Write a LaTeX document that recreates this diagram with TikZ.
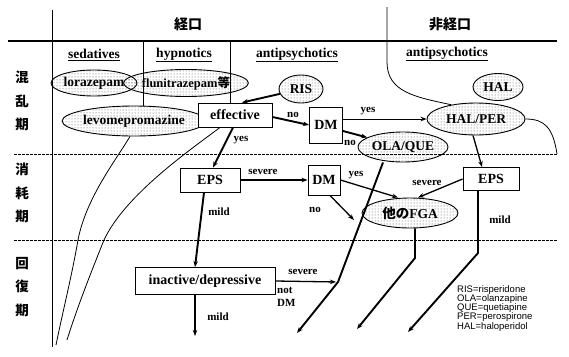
\documentclass[tikz,border=0pt]{standalone}
\usepackage{fontspec}
\setmainfont{Liberation Serif}
\newfontfamily\cjk{Noto Sans CJK JP}
\newfontfamily\legendfont{Liberation Sans}
\usetikzlibrary{shapes.geometric,arrows.meta,patterns}

\begin{document}
\begin{tikzpicture}[x=1pt,y=-1pt,
  >={Stealth[length=6pt,width=4.5pt]},
  drug/.style={ellipse, draw, line width=0.9pt, inner sep=0pt,
    pattern=dots, pattern color=black!70,
    font=\bfseries\fontsize{13.5}{13.5}\selectfont},
  stage/.style={rectangle, draw, line width=0.9pt, fill=white, inner sep=0pt,
    font=\bfseries\fontsize{14}{14}\selectfont},
  lbl/.style={inner sep=0pt, font=\bfseries\fontsize{11}{11}\selectfont},
  hdr/.style={inner sep=0pt, font=\bfseries\fontsize{13.5}{13.5}\selectfont},
  jphead/.style={inner sep=0pt, font=\cjk\bfseries\fontsize{14}{14}\selectfont},
  jprow/.style={inner sep=0pt, align=center, font=\cjk\bfseries\fontsize{13.5}{23.5}\selectfont},
  rowsep/.style={line width=0.9pt, dash pattern=on 2.5pt off 1.5pt},
  curve/.style={line width=0.8pt},
  arrthin/.style={->, line width=0.8pt},
  arrmed/.style={->, line width=1.3pt},
  arrthick/.style={->, line width=1.9pt},
]
\useasboundingbox (0,0) rectangle (569,356);

% ---------- frame ----------
\draw[line width=1.2pt] (8,41) -- (557,41);
\draw[line width=1pt] (52,10) -- (52,347);
\draw[line width=0.8pt] (143,41) -- (143,106);
\draw[line width=0.8pt] (230,41) -- (230,103);
\draw[rowsep] (14,154) -- (557,154);
\draw[rowsep] (14,240) -- (557,240);

% ---------- headings ----------
\node[jphead] (oral) at (188,24) {経口};
\node[jphead] (parenteral) at (450,24) {非経口};
\node[hdr] (hsed) at (94,55) {\underline{sedatives}};
\node[hdr] (hhyp) at (184,55) {\underline{hypnotics}};
\node[hdr] (hap1) at (297,55) {\underline{antipsychotics}};
\node[hdr] (hap2) at (447,54) {\underline{antipsychotics}};

\node[jprow] (ph1) at (22,101) {混\\乱\\期};
\node[jprow] (ph2) at (22,193) {消\\耗\\期};
\node[jprow] (ph3) at (22,287) {回\\復\\期};

% ---------- drugs ----------
\node[drug, minimum width=78pt, minimum height=26pt] (loraz) at (94,83) {lorazepam};
\node[drug, minimum width=96pt, minimum height=27pt,
      font=\bfseries\fontsize{12.5}{12.5}\selectfont] (fluni) at (186,83) {flunitrazepam{\cjk 等}};
\node[drug, minimum width=108pt, minimum height=30pt] (levo) at (134,121) {levomepromazine};
\node[drug, minimum width=44pt, minimum height=28pt] (RIS) at (301,89) {RIS};
\node[drug, minimum width=50pt, minimum height=27pt] (HAL) at (498,87) {HAL};
\node[drug, minimum width=98pt, minimum height=32pt] (HALPER) at (476,119) {HAL/PER};
\node[drug, minimum width=90pt, minimum height=30pt] (OLAQUE) at (403,147) {OLA/QUE};
\node[drug, minimum width=96pt, minimum height=30pt] (FGA) at (410,213) {{\cjk 他の}FGA};

% ---------- decisions ----------
\node[stage, minimum width=74pt, minimum height=24pt] (effective) at (235,115) {effective};
\node[stage, minimum width=33pt, minimum height=36pt] (DM1) at (326,125) {DM};
\node[stage, minimum width=60pt, minimum height=24pt] (EPS1) at (210,180) {EPS};
\node[stage, minimum width=32pt, minimum height=30pt] (DM2) at (324,180) {DM};
\node[stage, minimum width=56pt, minimum height=23pt] (EPS2) at (491,179) {EPS};
\node[stage, minimum width=140pt, minimum height=27pt] (inactive) at (205,281) {inactive/depressive};

% ---------- route points ----------
\coordinate (jOLA) at (338,282);
\coordinate (eOLA) at (297,333);
\coordinate (bFGA) at (415,258);
\coordinate (eFGA) at (357,329);
\coordinate (bEPS) at (478,253);
\coordinate (eEPS) at (408,332);
\coordinate (eNo) at (354,220);
\coordinate (eMild) at (195,336);

% ---------- boundary between oral and parenteral ----------
\draw[curve] (387,7) -- (387,62) .. controls (387,92) and (415,97) .. (HALPER.150);
\draw[curve] (HALPER.east) .. controls (545,119) and (553,128) .. (557,154);

% ---------- course of sedatives / hypnotics ----------
\draw[curve] ([xshift=-4pt]levo.south) .. controls (116,160) and (86,198) .. (78,240)
  .. controls (72,275) and (62,315) .. (56,345);
\draw[curve] ([xshift=-15pt]effective.south) .. controls (190,150) and (125,195) .. (104,240)
  .. controls (92,270) and (78,305) .. (67,340);

% ---------- connectors ----------
\draw[arrthick] (RIS) -- ([xshift=7pt]effective.north);
\draw[arrthick] ([yshift=-2pt]effective.east) -- (DM1.west);
\draw[arrthick] ([xshift=-2pt]effective.south) -- ([xshift=3pt]EPS1.north);
\draw[arrthin] (DM1.east |- HALPER.west) -- (HALPER.west);
\draw[arrthick] ([yshift=-6pt]DM1.east) -- (OLAQUE);
\draw[arrmed] (EPS1.east) -- (EPS1.east -| DM2.west);
\draw[arrmed] (DM2.east) -- ([xshift=-12pt]FGA.north);
\draw[arrmed] ([xshift=6pt]DM2.south) -- (eNo);
\draw[arrmed] (EPS2.west) -- ([xshift=8pt]FGA.north);
\draw[arrmed] ([xshift=-3pt]HALPER.south) -- ([xshift=-9pt]EPS2.north);
\draw[arrthick] ([xshift=-6pt]EPS1.south) -- ([xshift=-10pt]inactive.north);
\draw[arrthick] ([xshift=-13pt]EPS2.south) -- (bEPS) -- (eEPS);
\draw[arrthick] ([xshift=5pt]FGA.south) -- (bFGA) -- (eFGA);
\draw[arrthick] ([xshift=-20pt]OLAQUE.south) -- (jOLA) -- (eOLA);
\draw[arrmed, shorten >=2pt] (inactive.east) -- (jOLA);
\draw[arrmed] ([xshift=-10pt]inactive.south) -- (eMild);

% ---------- connector labels ----------
\node[lbl] (lNo1) at (293,115) {no};
\node[lbl] (lYes1) at (241,140) {yes};
\node[lbl] (lYes2) at (368,111) {yes};
\node[lbl] (lNo2) at (350,143) {no};
\node[lbl] (lSev1) at (263,172) {severe};
\node[lbl] (lYes3) at (356,175) {yes};
\node[lbl] (lNo3) at (315,210) {no};
\node[lbl] (lSev2) at (427,183) {severe};
\node[lbl] (lMild1) at (219,212) {mild};
\node[lbl] (lMild2) at (500,220) {mild};
\node[lbl] (lSev3) at (303,272) {severe};
\node[lbl, anchor=west] (lNot) at (277,290) {not};
\node[lbl, anchor=west] (lDM) at (277,303) {DM};
\node[lbl] (lMild3) at (218,317) {mild};

% ---------- abbreviations ----------
\node[anchor=north west, inner sep=0pt, align=left,
      font=\legendfont\fontsize{9.5}{9.3}\selectfont] (legend) at (457,285)
  {RIS=risperidone\\OLA=olanzapine\\QUE=quetiapine\\PER=perospirone\\HAL=haloperidol};
\end{tikzpicture}
\end{document}
